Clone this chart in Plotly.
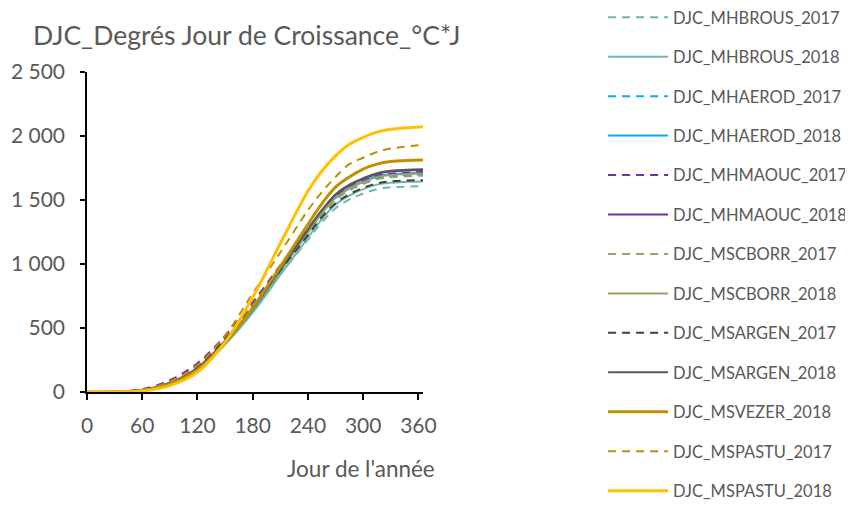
import plotly.graph_objects as go

days = [0, 30, 60, 90, 120, 150, 180, 210, 240, 255, 270, 285, 300, 315, 330, 365]

names = ["DJC_MHBROUS_2017", "DJC_MHBROUS_2018", "DJC_MHAEROD_2017", "DJC_MHAEROD_2018",
         "DJC_MHMAOUC_2017", "DJC_MHMAOUC_2018", "DJC_MSCBORR_2017", "DJC_MSCBORR_2018",
         "DJC_MSARGEN_2017", "DJC_MSARGEN_2018", "DJC_MSVEZER_2018", "DJC_MSPASTU_2017",
         "DJC_MSPASTU_2018"]

mhbrous_2017 = [0, 2, 16, 75, 195, 400, 650, 920, 1190, 1325, 1435, 1505, 1550, 1585, 1598, 1608]
mhbrous_2018 = [0, 2, 12, 60, 170, 370, 620, 915, 1205, 1350, 1465, 1535, 1585, 1620, 1635, 1645]
mhaerod_2017 = [0, 2, 18, 80, 205, 420, 680, 970, 1255, 1395, 1510, 1585, 1635, 1672, 1688, 1700]
mhaerod_2018 = [0, 2, 14, 66, 180, 385, 640, 945, 1250, 1400, 1520, 1595, 1645, 1685, 1700, 1712]
mhmaouc_2017 = [0, 3, 22, 92, 225, 440, 700, 990, 1275, 1415, 1530, 1600, 1650, 1690, 1706, 1718]
mhmaouc_2018 = [0, 2, 15, 72, 190, 400, 660, 965, 1265, 1415, 1540, 1615, 1665, 1705, 1723, 1735]
mscborr_2017 = [0, 2, 18, 82, 208, 420, 680, 965, 1245, 1385, 1500, 1575, 1625, 1662, 1678, 1690]
mscborr_2018 = [0, 2, 14, 66, 180, 385, 640, 945, 1245, 1395, 1515, 1590, 1640, 1680, 1696, 1708]
msargen_2017 = [0, 2, 17, 80, 205, 415, 670, 950, 1225, 1365, 1475, 1545, 1595, 1630, 1645, 1655]
msargen_2018 = [0, 2, 14, 68, 185, 395, 650, 960, 1270, 1420, 1545, 1620, 1670, 1710, 1728, 1740]
msvezer_2018 = [0, 2, 12, 62, 175, 385, 660, 980, 1310, 1470, 1600, 1680, 1742, 1780, 1800, 1812]
mspastu_2017 = [0, 2, 15, 80, 210, 440, 770, 1090, 1420, 1560, 1680, 1780, 1830, 1875, 1902, 1930]
mspastu_2018 = [0, 1, 8, 50, 155, 390, 740, 1160, 1570, 1725, 1845, 1935, 1990, 2030, 2052, 2072]

series = [mhbrous_2017, mhbrous_2018, mhaerod_2017, mhaerod_2018, mhmaouc_2017, mhmaouc_2018,
          mscborr_2017, mscborr_2018, msargen_2017, msargen_2018, msvezer_2018, mspastu_2017,
          mspastu_2018]

colors = ["#6DB6B4", "#6DB6B4", "#00B0F0", "#00B0F0", "#7030A0", "#7030A0", "#8EA66B", "#8EA66B",
          "#404040", "#595959", "#BF9000", "#BF9000", "#FFC000"]
dashes = ["8px,6px", "solid", "8px,6px", "solid", "8px,6px", "solid", "8px,6px", "solid",
          "8px,6px", "solid", "solid", "8px,6px", "solid"]
widths = [2, 2, 2, 2, 2, 2, 2, 2, 2, 2, 3, 2, 3]

FONT = "Lato"
GREY = "#595959"

W, H = 845, 502   # page body adds an 8px offset
L, T = 79, 64

fig = go.Figure()
for i, (n, s) in enumerate(zip(names, series)):
    fig.add_trace(go.Scatter(
        x=days, y=s, name=n, mode="lines", legendgroup=n,
        line=dict(color=colors[i], dash=dashes[i], width=widths[i], shape="spline", smoothing=1.0),
    ))

fig.update_layout(
    width=W, height=H,
    margin=dict(l=L, r=W-L-336, t=T, b=H-T-320, autoexpand=False),
    paper_bgcolor="white", plot_bgcolor="white",
    separators=", ",
    font=dict(family=FONT, color=GREY, size=21),
    title=dict(text="DJC_Degrés Jour de Croissance_°C*J", x=25/W, xref="container", xanchor="left",
               y=1-28/H, yref="container", yanchor="middle",
               font=dict(family=FONT, size=26.5, color=GREY)),
    showlegend=True,
    legend=dict(x=1.536, xanchor="left", y=1.225, yanchor="top", tracegroupgap=15,
                font=dict(family=FONT, size=16.5, color=GREY), itemwidth=60,
                maxheight=600, bgcolor="rgba(0,0,0,0)"),
    xaxis=dict(range=[0, 365], tickmode="array", tickvals=[0, 60, 120, 180, 240, 300, 360],
               showgrid=False, zeroline=False, showline=True, linecolor="black", linewidth=1.5,
               ticks="outside", ticklen=6, tickcolor="black", tickwidth=1.5,
               ticklabelstandoff=8, tickfont=dict(size=21, color=GREY)),
    yaxis=dict(range=[0, 2500], dtick=500, tickformat=",d",
               showgrid=False, zeroline=False, showline=True, linecolor="black", linewidth=1.5,
               ticks="outside", ticklen=5, tickcolor="black", tickwidth=1.5,
               ticklabelstandoff=11, tickfont=dict(size=21, color=GREY)),
)

fig.add_annotation(text="Jour de l'année", xref="paper", yref="paper",
                   x=(437-87)/336, xanchor="right", y=-(468-392)/320, yanchor="middle",
                   showarrow=False, font=dict(family=FONT, size=22.5, color=GREY))

fig.write_html("out.html")
